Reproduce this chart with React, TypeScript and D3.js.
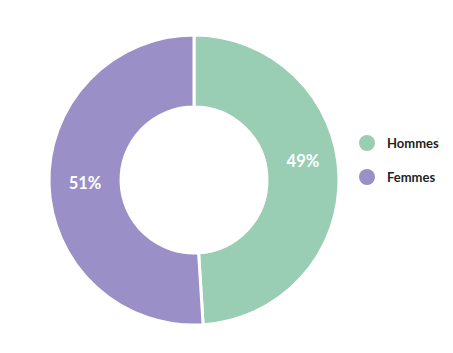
import { pie, arc, scaleOrdinal } from 'd3'

const categories = ['Hommes', 'Femmes']
const values = [49, 51]
const colors = ['#99ceb4', '#9a8fc6']

const width = 453
const height = 353
const cx = 194
const cy = 180
const outerR = 145
const innerR = 73

const color = scaleOrdinal<string, string>().domain(categories).range(colors)

const App = () => {
  const slices = pie<number>().sort(null)(values)
  const arcGen = arc<any>().innerRadius(innerR).outerRadius(outerR)
  const labelArc = arc<any>().innerRadius(innerR).outerRadius(outerR)

  return (
    <svg width={width} height={height} style={{ position: 'absolute', left: 0, top: 0, background: '#fff' }}>
      <g transform={`translate(${cx},${cy})`}>
        {slices.map((s, i) => (
          <path key={i} d={arcGen(s) as string} fill={color(categories[i])} stroke="#fff" strokeWidth={3} />
        ))}
        {slices.map((s, i) => {
          const [x, y] = labelArc.centroid(s)
          // first label sits a bit higher in the original
          const dy = i === 0 ? -16 : 0
          return (
            <text key={'l' + i} x={x} y={y + dy} textAnchor="middle" dominantBaseline="central"
              fill="#fff" fontFamily="Lato, 'Open Sans', sans-serif" fontWeight={700} fontSize={16.5}>
              {values[i]}%
            </text>
          )
        })}
      </g>
      <g transform="translate(367,143)">
        {categories.map((c, i) => (
          <g key={c} transform={`translate(0,${i * 34})`}>
            <circle r={8} fill={color(c)} />
            <text x={20} dominantBaseline="central" fontFamily="Lato, 'Open Sans', sans-serif"
              fontWeight={700} fontSize={13} fill="#1f1f1f">{c}</text>
          </g>
        ))}
      </g>
    </svg>
  )
}

export default App
